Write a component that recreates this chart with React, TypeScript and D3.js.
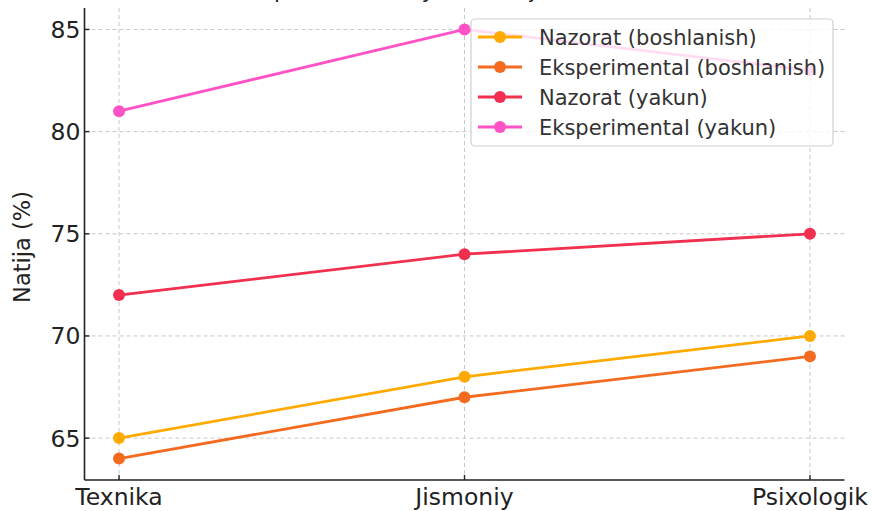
import React from "react";
import * as d3 from "d3";

const categories = ["Texnika", "Jismoniy", "Psixologik"];
const seriesNames = [
  "Nazorat (boshlanish)",
  "Eksperimental (boshlanish)",
  "Nazorat (yakun)",
  "Eksperimental (yakun)",
];
const nazoratBoshlanish = [65, 68, 70];
const eksperimentalBoshlanish = [64, 67, 69];
const nazoratYakun = [72, 74, 75];
const eksperimentalYakun = [81, 85, 83];
const seriesColors = ["#FFAA00", "#F46A1F", "#F0304E", "#FF52C6"];
const yTicks = [65, 70, 75, 80, 85];
const titleText = "Komponentlar bo‘yicha natijalar dinamikasi";
const yLabel = "Natija (%)";

const W = 872;
const H = 511;
const m = { left: 84.5, right: 844.5, top: 8, bottom: 480 };
const FONT = "DejaVu Sans, sans-serif";

export default function App() {
  const allSeries = [nazoratBoshlanish, eksperimentalBoshlanish, nazoratYakun, eksperimentalYakun];
  const x = d3.scaleLinear().domain([-0.1, 2.1]).range([m.left, m.right]);
  const yMin = 64 - 0.05 * 21;
  const yMax = 85 + 0.05 * 21;
  const y = d3.scaleLinear().domain([yMin, yMax]).range([m.bottom, m.top]);
  const line = d3
    .line<number>()
    .x((_, i) => x(i))
    .y((d) => y(d));

  const legX = 471;
  const legY = 19;
  const legW = 362;
  const legH = 127;
  const rowH = 30;

  return (
    <div style={{ position: "fixed", left: 0, top: 0, width: W, height: H, overflow: "hidden" }}>
      <svg width={W} height={H} style={{ display: "block", background: "#fff" }} fontFamily={FONT}>
        {/* title, mostly cut off as in the reference */}
        <text x={(m.left + m.right) / 2} y={-2} textAnchor="middle" fontSize={22} fill="#222">
          {titleText}
        </text>
        {/* grid */}
        {yTicks.map((t) => (
          <line key={"gy" + t} x1={m.left} x2={m.right} y1={y(t)} y2={y(t)} stroke="#c8c8c8" strokeWidth={1} strokeDasharray="4,3" />
        ))}
        {categories.map((c, i) => (
          <line key={"gx" + c} x1={x(i)} x2={x(i)} y1={m.top} y2={m.bottom} stroke="#c8c8c8" strokeWidth={1} strokeDasharray="4,3" />
        ))}
        {/* series */}
        {allSeries.map((s, si) => (
          <g key={"s" + si}>
            <path d={line(s) || ""} fill="none" stroke={seriesColors[si]} strokeWidth={2.8} />
            {s.map((v, i) => (
              <circle key={i} cx={x(i)} cy={y(v)} r={6} fill={seriesColors[si]} />
            ))}
          </g>
        ))}
        {/* spines */}
        <line x1={m.left} x2={m.left} y1={m.top} y2={m.bottom} stroke="#222" strokeWidth={1.6} />
        <line x1={m.left} x2={m.right} y1={m.bottom} y2={m.bottom} stroke="#222" strokeWidth={1.6} />
        {/* y ticks */}
        {yTicks.map((t) => (
          <g key={"yt" + t}>
            <line x1={m.left} x2={m.left + 5} y1={y(t)} y2={y(t)} stroke="#222" strokeWidth={1.4} />
            <text x={m.left - 4} y={y(t)} dy="0.36em" textAnchor="end" fontSize={23.5} fill="#222">
              {t}
            </text>
          </g>
        ))}
        {/* x ticks */}
        {categories.map((c, i) => (
          <g key={"xt" + c}>
            <line x1={x(i)} x2={x(i)} y1={m.bottom} y2={m.bottom - 5} stroke="#222" strokeWidth={1.4} />
            <text x={x(i)} y={m.bottom + 25} textAnchor="middle" fontSize={23.5} fill="#222">
              {c}
            </text>
          </g>
        ))}
        {/* y label */}
        <text transform={`translate(${30},${247}) rotate(-90)`} textAnchor="middle" fontSize={22.5} fill="#222">
          {yLabel}
        </text>
        {/* legend */}
        <rect x={legX} y={legY} width={legW} height={legH} rx={4} fill="#fff" fillOpacity={0.8} stroke="#d0d0d0" strokeWidth={1.2} />
        {seriesNames.map((n, i) => {
          const cy = legY + 18 + i * rowH;
          return (
            <g key={"lg" + i}>
              <line x1={legX + 7} x2={legX + 51} y1={cy} y2={cy} stroke={seriesColors[i]} strokeWidth={2.8} />
              <circle cx={legX + 29} cy={cy} r={6} fill={seriesColors[i]} />
              <text x={legX + 68} y={cy} dy="0.36em" fontSize={21} fill="#333">
                {n}
              </text>
            </g>
          );
        })}
      </svg>
    </div>
  );
}
